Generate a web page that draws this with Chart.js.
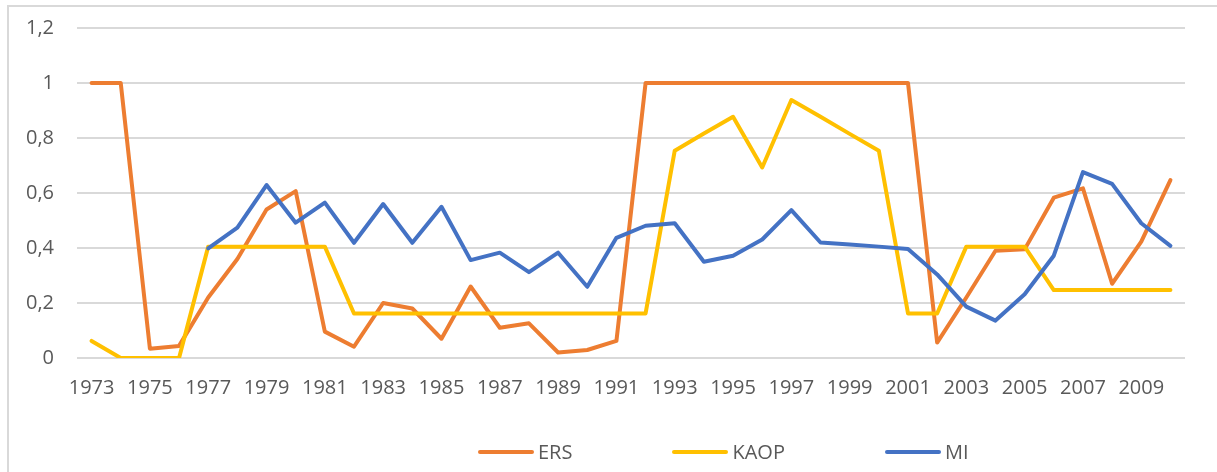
<!DOCTYPE html>
<html>
<head>
<meta charset="utf-8">
<script src="https://cdn.jsdelivr.net/npm/chart.js@4.4.1/dist/chart.umd.min.js"></script>
<style>
  body { margin: 0; background: #fff; overflow: hidden; }
  #wrap { position: relative; width: 1217px; height: 472px; }
  #marco { position: absolute; left: 7px; top: 5px; right: -5px; bottom: -5px;
           border-left: 2px solid #d9d9d9; border-top: 2px solid #d9d9d9; }
  #grafico { position: absolute; left: 0; top: 0; }
  #leyenda { position: absolute; left: 478px; top: 440px; display: flex; gap: 100px;
             font-family: "Open Sans", sans-serif; font-size: 20px; color: #595959; line-height: 24px; }
  .item { display: flex; align-items: center; }
  .linea { width: 56px; height: 4px; border-radius: 2px; margin-right: 4px; }
</style>
</head>
<body>
<div id="wrap">
  <div id="marco"></div>
  <canvas id="grafico" width="1217" height="472"></canvas>
  <div id="leyenda"></div>
</div>
<script>
// Años (eje X)
const anios = ['1973', '1974', '1975', '1976', '1977', '1978', '1979', '1980', '1981', '1982',
    '1983', '1984', '1985', '1986', '1987', '1988', '1989', '1990', '1991', '1992',
    '1993', '1994', '1995', '1996', '1997', '1998', '1999', '2000', '2001', '2002',
    '2003', '2004', '2005', '2006', '2007', '2008', '2009', '2010'];

// Series
const ers = [1, 1, 0.034, 0.044, 0.22, 0.36, 0.54, 0.607, 0.096, 0.041,
    0.2, 0.18, 0.07, 0.26, 0.11, 0.126, 0.02, 0.029, 0.062, 1,
    1, 1, 1, 1, 1, 1, 1, 1, 1, 0.056,
    0.22, 0.39, 0.395, 0.583, 0.617, 0.27, 0.423, 0.647];
const kaop = [0.062, 0, 0, 0, 0.405, 0.405, 0.405, 0.405, 0.405, 0.162,
    0.162, 0.162, 0.162, 0.162, 0.162, 0.162, 0.162, 0.162, 0.162, 0.162,
    0.754, 0.816, 0.877, 0.693, 0.938, 0.877, 0.815, 0.754, 0.162, 0.162,
    0.405, 0.405, 0.405, 0.247, 0.247, 0.247, 0.247, 0.247];
const mi = [null, null, null, null, 0.399, 0.474, 0.629, 0.492, 0.565, 0.419,
    0.56, 0.419, 0.55, 0.356, 0.383, 0.312, 0.383, 0.259, 0.437, 0.481,
    0.49, 0.35, 0.372, 0.431, 0.538, 0.42, 0.413, 0.405, 0.396, 0.304,
    0.187, 0.136, 0.232, 0.372, 0.676, 0.633, 0.49, 0.408];

// Ticks del eje Y
const ticksY = [0, 0.2, 0.4, 0.6, 0.8, 1, 1.2];

const fuente = { family: '"Open Sans", sans-serif', size: 20 };
const gris = '#595959';

function serie(nombre, datos, color, orden) {
    return {
        label: nombre,
        data: datos,
        borderColor: color,
        backgroundColor: color,
        borderWidth: 4,
        borderCapStyle: 'round',
        borderJoinStyle: 'round',
        pointRadius: 0,
        tension: 0,
        fill: false,
        order: orden
    };
}

const datos = {
    labels: anios,
    datasets: [
        serie('ERS', ers, '#ED7D31', 3),
        serie('KAOP', kaop, '#FFC000', 2),
        serie('MI', mi, '#4472C4', 1)
    ]
};

const config = {
    type: 'line',
    data: datos,
    options: {
        responsive: false,
        animation: false,
        layout: { padding: { left: 0, right: 32, top: 28, bottom: 64 } },
        plugins: {
            legend: { display: false },
            tooltip: { enabled: false }
        },
        scales: {
            x: {
                offset: true,
                grid: { display: false },
                border: { display: false },
                ticks: {
                    autoSkip: false,
                    maxRotation: 0,
                    padding: 10,
                    color: gris,
                    font: fuente,
                    callback: (v, i) => (i % 2 === 0 ? anios[i] : '')
                },
                afterFit: (escala) => { escala.height = 50; }
            },
            y: {
                min: 0,
                max: 1.2,
                grid: { color: '#d9d9d9', lineWidth: 2, drawTicks: false },
                border: { display: false },
                afterBuildTicks: (escala) => { escala.ticks = ticksY.map(v => ({ value: v })); },
                ticks: {
                    padding: 23,
                    color: gris,
                    font: fuente,
                    callback: (v) => String(Number(v.toFixed(1))).replace('.', ',')
                },
                afterFit: (escala) => {
                    escala.width = 77;
                    // el padding de los ticks no debe empujar el área hacia abajo
                    escala.paddingTop = 0;
                    escala.paddingBottom = 0;
                }
            }
        }
    }
};

const migrafico = new Chart(document.getElementById('grafico'), config);

// Leyenda en HTML a partir de los datasets
const leyenda = document.getElementById('leyenda');
migrafico.data.datasets.forEach(ds => {
    const item = document.createElement('div');
    item.className = 'item';
    const linea = document.createElement('span');
    linea.className = 'linea';
    linea.style.background = ds.borderColor;
    const texto = document.createElement('span');
    texto.textContent = ds.label;
    item.appendChild(linea);
    item.appendChild(texto);
    leyenda.appendChild(item);
});
</script>
</body>
</html>
